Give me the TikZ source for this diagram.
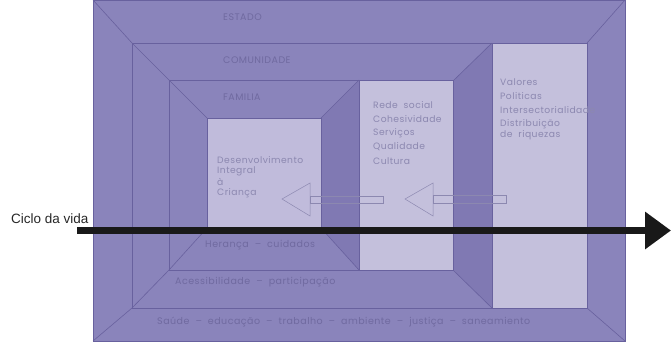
\documentclass[tikz,border=0pt]{standalone}
\usepackage{fontspec}
\setmainfont{Liberation Sans}
\newfontfamily\labfont[LetterSpace=5]{Poppins}
\usetikzlibrary{arrows.meta}
\definecolor{bgpurple}{RGB}{138,132,187}
\definecolor{darkpurple}{RGB}{128,121,179}
\definecolor{lightbox}{RGB}{196,192,220}
\definecolor{childbox}{RGB}{192,187,219}
\definecolor{edgecol}{RGB}{104,97,158}
\definecolor{txtdark}{RGB}{112,106,160}
\definecolor{txtlight}{RGB}{140,136,176}
\tikzset{
  frameline/.style={draw=edgecol, line width=0.6pt},
  hollow/.style={draw=txtlight, line width=0.5pt},
  labdark/.style={anchor=west, inner sep=0pt, text=txtdark, font=\labfont\fontsize{9.5}{11}\selectfont},
  lablight/.style={anchor=west, inner sep=0pt, text=txtlight, font=\labfont\fontsize{9.2}{11}\selectfont},
  bigarrow/.style={line width=7pt, draw=black!90, -{Triangle[length=26pt,width=36pt]}}
}
\begin{document}
\begin{tikzpicture}[x=1pt,y=-1pt]
\useasboundingbox (0,0) rectangle (671,343);
% outer (ESTADO)
\fill[bgpurple] (93,0) rectangle (625,341);
\draw[frameline] (93,0) rectangle (625,341);
% darker side bands
\fill[darkpurple] (321,118) -- (359,80) -- (359,270) -- (321,228) -- cycle;
\fill[darkpurple] (453,81) -- (492,43) -- (492,308) -- (453,270) -- cycle;
% frames
\draw[frameline] (132,43) rectangle (587,308);
\draw[frameline] (169,80) rectangle (359,270);
% light boxes
\fill[lightbox] (359,80) rectangle (453,270);
\draw[frameline] (359,80) rectangle (453,270);
\fill[lightbox] (492,43) rectangle (587,308);
\draw[frameline] (492,43) rectangle (587,308);
\fill[childbox] (207,118) rectangle (321,228);
\draw[frameline] (207,118) rectangle (321,228);
% diagonals
\draw[frameline] (93,0) -- (132,43);
\draw[frameline] (625,0) -- (587,43);
\draw[frameline] (93,341) -- (132,308);
\draw[frameline] (625,341) -- (587,308);
\draw[frameline] (132,43) -- (169,80);
\draw[frameline] (492,43) -- (453,81);
\draw[frameline] (132,308) -- (169,270);
\draw[frameline] (492,308) -- (453,270);
\draw[frameline] (169,80) -- (207,118);
\draw[frameline] (359,80) -- (321,118);
\draw[frameline] (169,270) -- (207,228);
\draw[frameline] (359,270) -- (321,228);
% hollow arrows
\draw[hollow] (282,199) -- (310,183) -- (310,216) -- cycle;
\draw[hollow] (310,196) rectangle (383,203);
\draw[hollow] (405,199) -- (433,183) -- (433,216) -- cycle;
\draw[hollow] (433,195.5) rectangle (506,203);
% labels
\node[labdark] (estado) at (223,17) {ESTADO};
\node[labdark] (comunidade) at (223,60) {COMUNIDADE};
\node[labdark] (familia) at (223,97) {FAMILIA};
\node[lablight] (m1) at (373,105) {Rede\ \ social};
\node[lablight] (m2) at (373,119) {Cohesividade};
\node[lablight] (m3) at (373,133) {Serviços};
\node[lablight] (m4) at (373,147) {Qualidade};
\node[lablight] (m5) at (373,161) {Cultura};
\node[lablight] (v1) at (500,82) {Valores};
\node[lablight] (v2) at (500,96) {Politicas};
\node[lablight] (v3) at (500,110) {Intersectorialidade};
\node[lablight] (v4) at (500,124) {Distribuição};
\node[lablight] (v5) at (500,135) {de\ \ riquezas};
\node[lablight] (c1) at (217,160) {Desenvolvimento};
\node[lablight] (c2) at (217,171) {Integral};
\node[lablight] (c3) at (217,182) {à};
\node[lablight] (c4) at (217,193) {Criança};
\node[labdark] (heranca) at (205,245) {Herança \ – \ cuidados};
\node[labdark] (acess) at (175,282) {Acessibilidade \ – \ participação};
\node[labdark] (saude) at (157,322) {Saúde \ – \ educação \ – \ trabalho \ – \ ambiente \ – \ justiça \ – \ saneamiento};
% life cycle arrow
\node[anchor=west, inner sep=0pt, font=\fontsize{13.5}{15}\selectfont, text=black!85] (ciclo) at (11,218.5) {Ciclo da vida};
\coordinate (arrstart) at (77,230.5);
\coordinate (arrend) at (671,230.5);
\draw[bigarrow] (arrstart) -- (arrend);
\end{tikzpicture}
\end{document}
